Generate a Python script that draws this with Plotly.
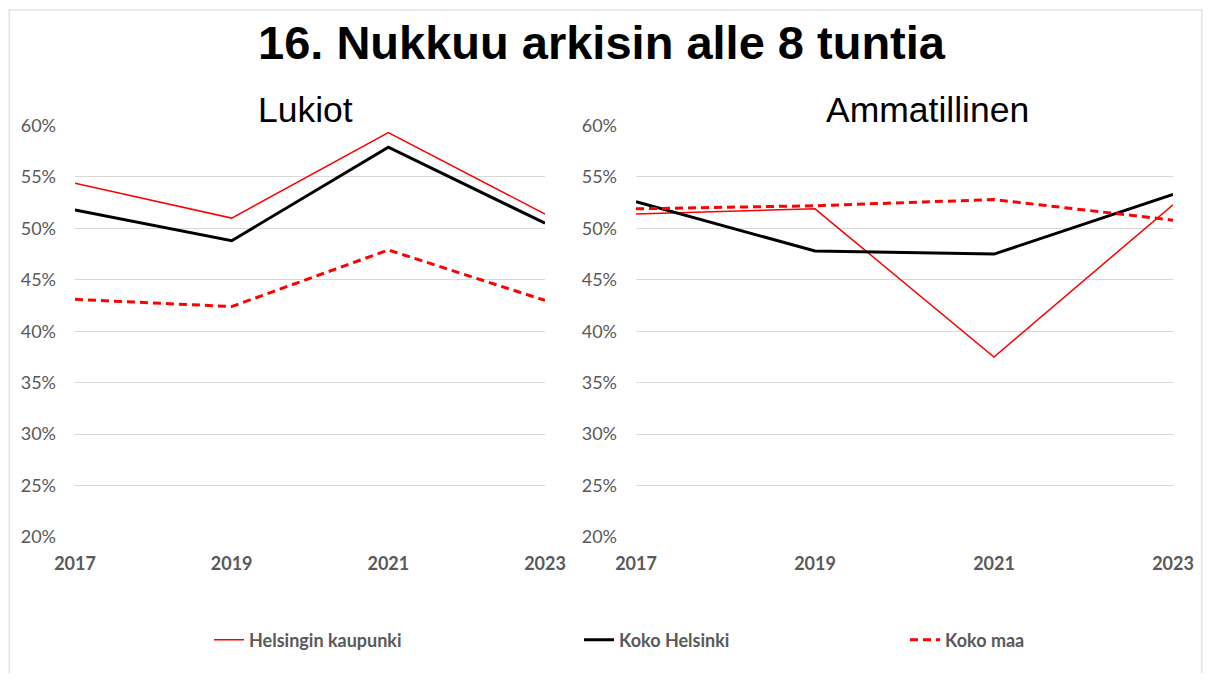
import plotly.graph_objects as go

years = [2017, 2019, 2021, 2023]
y_ticks = [20, 25, 30, 35, 40, 45, 50, 55, 60]
y_tick_labels = ["20%", "25%", "30%", "35%", "40%", "45%", "50%", "55%", "60%"]

series_names = ["Helsingin kaupunki", "Koko Helsinki", "Koko maa"]

# Lukiot (left panel), percent
lukiot_helsingin_kaupunki = [54.4, 51.0, 59.3, 51.4]
lukiot_koko_helsinki = [51.8, 48.8, 57.9, 50.5]
lukiot_koko_maa = [43.1, 42.4, 47.9, 43.0]

# Ammatillinen (right panel), percent
amm_helsingin_kaupunki = [51.4, 51.9, 37.5, 52.3]
amm_koko_helsinki = [52.6, 47.8, 47.5, 53.3]
amm_koko_maa = [51.9, 52.2, 52.8, 50.8]

# rendered page: body margin 8px, figure div 1195 x 665
OX, OY, PW, PH = 8, 8, 1195, 665

styles = [
    dict(color="#FF0000", width=1.5, dash="solid"),
    dict(color="#000000", width=3, dash="solid"),
    dict(color="#FF0000", width=3, dash="8px,5px"),
]
legend_ids = ["legend", "legend2", "legend3"]

fig = go.Figure()
panels = [
    ("x", "y", [lukiot_helsingin_kaupunki, lukiot_koko_helsinki, lukiot_koko_maa], True),
    ("x2", "y2", [amm_helsingin_kaupunki, amm_koko_helsinki, amm_koko_maa], False),
]
for xa, ya, vals, show in panels:
    for i, (name, v) in enumerate(zip(series_names, vals)):
        fig.add_trace(go.Scatter(
            x=years, y=v, name=name, mode="lines",
            line=styles[i], xaxis=xa, yaxis=ya,
            showlegend=show, legend=legend_ids[i],
            hovertemplate="%{y:.1f}%<extra>" + name + "</extra>",
        ))

FONT = "Lato, Open Sans, sans-serif"
xcommon = dict(range=[2017, 2023], tickvals=years, ticktext=[str(y) for y in years],
               showgrid=False, zeroline=False, showline=False, ticks="",
               tickfont=dict(family=FONT, size=18, color="#595959", weight="bold"),
               ticklabelstandoff=14, fixedrange=True, automargin=False)
ycommon = dict(range=[20, 60], tickvals=y_ticks, ticktext=y_tick_labels, showgrid=True,
               gridcolor="#d9d9d9", gridwidth=1, zeroline=False, showline=False,
               ticks="", tickfont=dict(family=FONT, size=18, color="#595959"),
               ticklabelstandoff=18, fixedrange=True, automargin=False)

def px_x(p):
    return (p - OX) / PW

def px_y(p):
    return 1 - (p - OY) / PH

fig.update_layout(
    autosize=True,
    margin=dict(l=0, r=0, t=0, b=0, autoexpand=False),
    paper_bgcolor="white", plot_bgcolor="white",
    xaxis=dict(domain=[px_x(75), px_x(545)], anchor="y", **xcommon),
    yaxis=dict(domain=[px_y(537), px_y(125.5)], anchor="x", **ycommon),
    xaxis2=dict(domain=[px_x(636), px_x(1173)], anchor="y2", **xcommon),
    yaxis2=dict(domain=[px_y(537), px_y(125.5)], anchor="x2", **ycommon),
)

legend_x_px = [209, 579, 905]
for lid, lx in zip(legend_ids, legend_x_px):
    fig.update_layout({lid: dict(
        x=px_x(lx), y=px_y(640), xanchor="left", yanchor="middle",
        orientation="h", bgcolor="rgba(0,0,0,0)",
        font=dict(family=FONT, size=18, color="#595959", weight="bold"),
    )})

annotations = [
    dict(text="<b>16. Nukkuu arkisin alle 8 tuntia</b>", x=px_x(601.5), y=px_y(43),
         font=dict(family="Liberation Sans, Arial, sans-serif", size=47, color="#000000")),
    dict(text="Lukiot", x=px_x(305), y=px_y(110),
         font=dict(family="Liberation Sans, Arial, sans-serif", size=35.5, color="#000000")),
    dict(text="Ammatillinen", x=px_x(927), y=px_y(110),
         font=dict(family="Liberation Sans, Arial, sans-serif", size=35.5, color="#000000")),
]
for a in annotations:
    fig.add_annotation(xref="paper", yref="paper", xanchor="center", yanchor="middle",
                       showarrow=False, **a)

fig.add_shape(type="rect", xref="paper", yref="paper",
              x0=0.001, x1=0.999, y0=-0.05, y1=px_y(10),
              line=dict(color="#e3e3e3", width=1.5), layer="below")

fig.write_html("out.html")
